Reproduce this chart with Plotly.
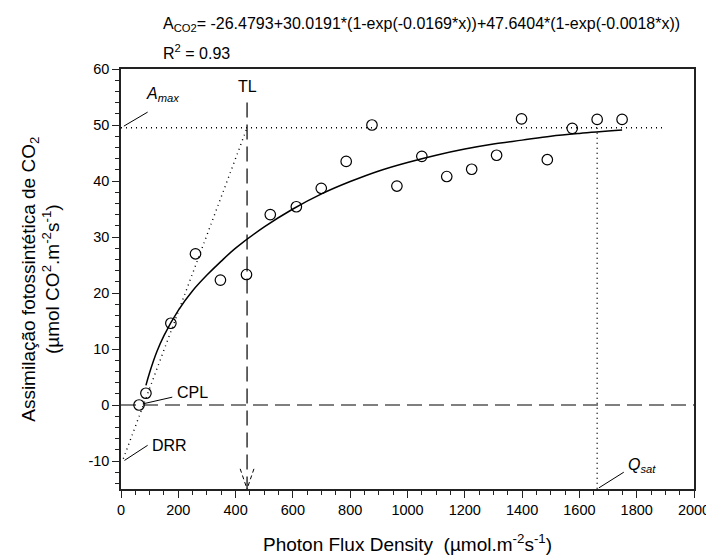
import plotly.graph_objects as go

# measured points
ppfd = [63, 87, 174, 260, 347, 438, 521, 612, 699, 786, 876, 963, 1050, 1137, 1224, 1311, 1398, 1488, 1575, 1662, 1749]
assim = [0.0, 2.1, 14.6, 27.0, 22.3, 23.3, 34.0, 35.4, 38.7, 43.5, 50.0, 39.1, 44.4, 40.8, 42.1, 44.6, 51.1, 43.8, 49.4, 51.0, 51.0]

# fitted curve
curve_x = [87, 100, 125, 150, 200, 250, 300, 350, 400, 500, 600, 700, 800, 900, 1000, 1100, 1200, 1300, 1400, 1500, 1600, 1749]
curve_y = [3.5, 5.8, 9.5, 12.4, 16.9, 20.4, 23.2, 25.7, 28.0, 31.8, 35.0, 37.7, 39.9, 41.8, 43.3, 44.6, 45.7, 46.6, 47.3, 48.0, 48.5, 49.1]

# reference values
AMAX = 49.5
TL = 440
QSAT = 1662
DRR_X, DRR_Y = 8, -9.6
AMAX_END = 1900
TL_TOP = 54
Y_MIN, Y_MAX = -15, 60
X_MIN, X_MAX = 0, 2000

x_ticks = list(range(0, 2001, 200))
y_ticks = list(range(-10, 61, 10))

FONT = "Arial, 'Liberation Sans', sans-serif"
BLACK = "#000000"

fig = go.Figure()

def line(xs, ys, dash="solid", width=1.2):
    fig.add_trace(go.Scatter(x=xs, y=ys, mode="lines", hoverinfo="skip",
                             line=dict(color=BLACK, width=width, dash=dash),
                             showlegend=False))

DOT = "1px,4px"
DASH = "15px,7px"

# Amax dotted horizontal
line([X_MIN, AMAX_END], [AMAX, AMAX], DOT, 1.4)
# initial slope dotted
line([DRR_X, TL], [DRR_Y, AMAX], DOT, 1.4)
# Qsat dotted vertical
line([QSAT, QSAT], [AMAX, Y_MIN], DOT, 1.4)
# zero dashed line
line([X_MIN, X_MAX], [0, 0], DASH, 1.2)
# TL dashed vertical with dashed arrow head
line([TL, TL], [TL_TOP, Y_MIN], DASH, 1.2)
line([TL - 24, TL], [-11.4, Y_MIN], "4px,3px", 1.0)
line([TL + 24, TL], [-11.4, Y_MIN], "4px,3px", 1.0)

# leader lines
line([10, 93], [49.8, 52.3], "solid", 1.0)      # Amax
line([76, 179], [0.2, 1.4], "solid", 1.0)       # CPL
line([12, 93], [-9.9, -7.2], "solid", 1.0)      # DRR
line([1668, 1755], [-14.8, -12.0], "solid", 1.0)  # Qsat

# fitted curve
fig.add_trace(go.Scatter(x=curve_x, y=curve_y, mode="lines", line_shape="spline",
                         line=dict(color=BLACK, width=1.5), showlegend=False, hoverinfo="skip"))
# data points
fig.add_trace(go.Scatter(x=ppfd, y=assim, mode="markers", showlegend=False,
                         marker=dict(symbol="circle-open", size=10.5, color=BLACK,
                                     line=dict(color=BLACK, width=1.2))))

ann_font = dict(family=FONT, size=16, color=BLACK)
annotations = [
    dict(x=TL, y=56.8, xref="x", yref="y", text="TL", showarrow=False, font=ann_font,
         xanchor="center", yanchor="middle"),
    dict(x=79, y=55.4, xref="x", yref="y", text="<i>A</i><sub><i>max</i></sub>", showarrow=False,
         font=ann_font, xanchor="left", yanchor="middle"),
    dict(x=190, y=2.3, xref="x", yref="y", text="CPL", showarrow=False, font=ann_font,
         xanchor="left", yanchor="middle"),
    dict(x=100, y=-7.2, xref="x", yref="y", text="DRR", showarrow=False, font=ann_font,
         xanchor="left", yanchor="middle"),
    dict(x=1762, y=-10.8, xref="x", yref="y", text="<i>Q</i><sub><i>sat</i></sub>", showarrow=False,
         font=ann_font, xanchor="left", yanchor="middle"),
    dict(x=0.069, y=1.107, xref="paper", yref="paper",
         text="A<sub>CO2</sub>= -26.4793+30.0191*(1-exp(-0.0169*x))+47.6404*(1-exp(-0.0018*x))",
         showarrow=False, font=dict(family=FONT, size=16, color=BLACK), xanchor="left", yanchor="middle"),
    dict(x=0.069, y=1.040, xref="paper", yref="paper", text="R<sup>2</sup> = 0.93",
         showarrow=False, font=dict(family=FONT, size=16, color=BLACK), xanchor="left", yanchor="middle"),
    dict(x=0.5, y=-0.129, xref="paper", yref="paper",
         text="Photon Flux Density\u00a0 (µmol.m<sup>-2</sup>s<sup>-1</sup>)",
         showarrow=False, font=dict(family=FONT, size=19, color=BLACK), xanchor="center", yanchor="middle"),
    dict(x=-0.140, y=0.5, xref="paper", yref="paper", textangle=-90,
         text="Assimilação fotossintética de CO<sub>2</sub><br>(µmol CO<sup>2</sup>.m<sup>-2</sup>s<sup>-1</sup>)",
         showarrow=False, font=dict(family=FONT, size=19, color=BLACK), xanchor="center", yanchor="middle"),
]

axis_common = dict(showline=True, linecolor="#222222", linewidth=1.5, mirror=True,
                   ticks="outside", ticklen=7, tickwidth=1.2, tickcolor="#222222",
                   showgrid=False, zeroline=False,
                   tickfont=dict(family=FONT, size=14.5, color=BLACK))

fig.update_layout(
    width=714, height=555,
    margin=dict(l=113, r=21, t=61, b=74),
    paper_bgcolor="white", plot_bgcolor="white",
    xaxis=dict(range=[X_MIN, X_MAX], tickvals=x_ticks, ticktext=[str(v) for v in x_ticks],
               minor=dict(ticks="outside", ticklen=4, dtick=50, tickcolor="#222222", tickwidth=1),
               **axis_common),
    yaxis=dict(range=[Y_MIN, Y_MAX], tickvals=y_ticks, ticktext=[str(v) for v in y_ticks],
               minor=dict(ticks="outside", ticklen=4, dtick=2, tick0=0, tickcolor="#222222", tickwidth=1),
               **axis_common),
    annotations=annotations,
    showlegend=False,
)

fig.write_html("out.html")
